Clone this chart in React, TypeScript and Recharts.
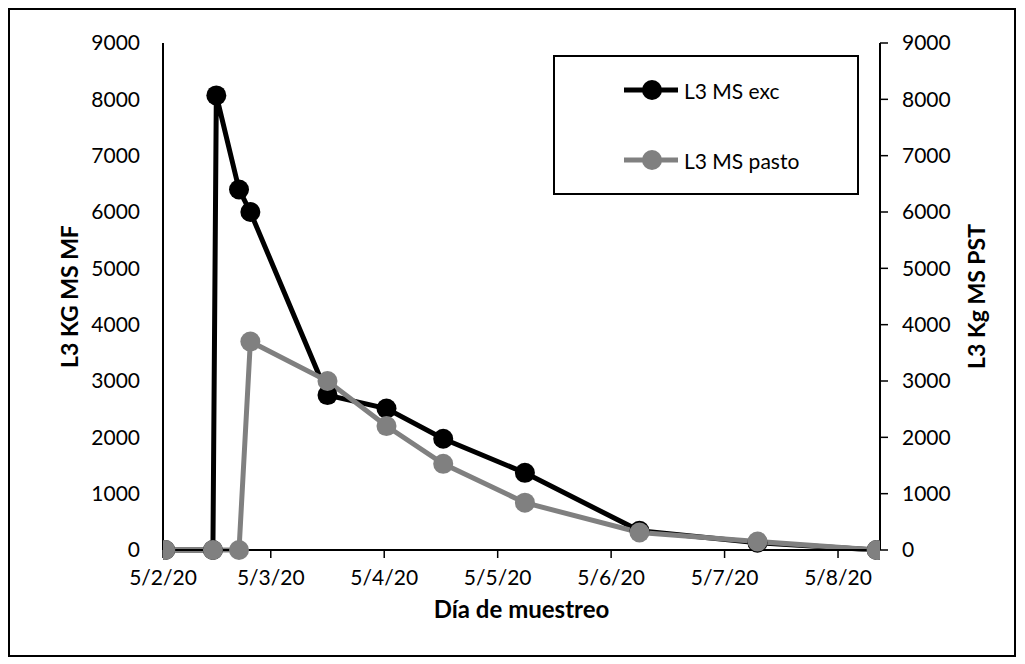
import React from "react";
import { LineChart, Line, XAxis, YAxis, Legend } from "recharts";

// x = days after 5/2/20
const excDays = [0.07, 0.49, 0.52, 0.72, 0.82, 1.5, 2.02, 2.52, 3.24, 4.25, 5.29, 6.34];
const excKg = [0, 0, 8070, 6400, 6000, 2750, 2510, 1975, 1370, 340, 130, 0];

const pastoDays = [0.07, 0.49, 0.72, 0.82, 1.5, 2.02, 2.52, 3.24, 4.25, 5.29, 6.34];
const pastoKg = [0, 0, 0, 3700, 3000, 2200, 1530, 840, 310, 150, 0];

const dayTicks = [0.05, 1, 2, 3, 4, 5, 6];
const kgTicks = [0, 1000, 2000, 3000, 4000, 5000, 6000, 7000, 8000, 9000];

const excData = excDays.map((x, i) => ({ x, v: excKg[i] }));
const pastoData = pastoDays.map((x, i) => ({ x, v: pastoKg[i] }));

const FONT = "Lato, 'Open Sans', sans-serif";
const tickStyle = { fill: "#000", fontSize: 21, fontFamily: FONT };

const fmtDay = (d: number) => `5/${2 + Math.floor(d)}/20`;

function LegendBox() {
  const rows = [
    { name: "L3 MS exc", color: "#000" },
    { name: "L3 MS pasto", color: "#808080" },
  ];
  return (
    <div
      style={{
        width: 306,
        height: 140,
        border: "2px solid #000",
        boxSizing: "border-box",
        background: "#fff",
        position: "relative",
        fontFamily: FONT,
      }}
    >
      {rows.map((r, i) => (
        <div
          key={r.name}
          style={{
            position: "absolute",
            left: 67,
            top: 33 + i * 70 - 13,
            height: 26,
            display: "flex",
            alignItems: "center",
          }}
        >
          <svg width={58} height={26}>
            <line x1={2} y1={13} x2={56} y2={13} stroke={r.color} strokeWidth={5} />
            <circle cx={30} cy={13} r={10} fill={r.color} />
          </svg>
          <span style={{ fontSize: 21, marginLeft: 4, color: "#000" }}>{r.name}</span>
        </div>
      ))}
    </div>
  );
}

export default function App() {
  return (
    <div style={{ width: 1004, height: 645, border: "2px solid #000", background: "#fff" }}>
      <LineChart width={1002} height={642} margin={{ top: 33, right: 0, left: 0, bottom: 0 }}>
        <XAxis
          xAxisId="b"
          type="number"
          dataKey="x"
          domain={[0.05, 6.37]}
          ticks={dayTicks}
          interval={0}
          allowDataOverflow
          tickFormatter={fmtDay}
          tick={tickStyle}
          tickSize={8}
          tickMargin={12}
          height={102}
          axisLine={{ stroke: "#000", strokeWidth: 2 }}
          tickLine={{ stroke: "#000", strokeWidth: 1.5 }}
          label={{
            value: "Día de muestreo",
            position: "center",
            dy: 8,
            style: { fill: "#000", fontSize: 24, fontWeight: 700, fontFamily: FONT },
          }}
        />
        <XAxis
          xAxisId="t"
          orientation="top"
          type="number"
          dataKey="x"
          domain={[0.05, 6.37]}
          height={0}
          tick={false}
          tickLine={false}
          axisLine={{ stroke: "#000", strokeWidth: 2 }}
        />
        <YAxis
          yAxisId="l"
          domain={[0, 9000]}
          ticks={kgTicks}
          interval={0}
          width={153}
          tick={tickStyle}
          tickLine={false}
          tickSize={0}
          tickMargin={23}
          axisLine={{ stroke: "#000", strokeWidth: 2 }}
          label={{
            value: "L3 KG MS MF",
            angle: -90,
            position: "center",
            dx: -17,
            style: { fill: "#000", fontSize: 23, fontWeight: 700, fontFamily: FONT },
          }}
        />
        <YAxis
          yAxisId="r"
          orientation="right"
          domain={[0, 9000]}
          ticks={kgTicks}
          interval={0}
          width={132}
          tick={tickStyle}
          tickSize={8}
          tickMargin={14}
          tickLine={{ stroke: "#000", strokeWidth: 1.5 }}
          axisLine={{ stroke: "#000", strokeWidth: 2 }}
          label={{
            value: "L3 Kg MS PST",
            angle: -90,
            position: "center",
            dx: 31,
            style: { fill: "#000", fontSize: 23, fontWeight: 700, fontFamily: FONT },
          }}
        />
        <Legend
          layout="vertical"
          align="center"
          verticalAlign="middle"
          wrapperStyle={{ left: 543, top: 45, width: 306, height: 140 }}
          content={() => <LegendBox />}
        />
        <Line
          xAxisId="b"
          yAxisId="l"
          data={excData}
          dataKey="v"
          name="L3 MS exc"
          type="linear"
          stroke="#000"
          strokeWidth={5}
          dot={{ r: 10, fill: "#000", stroke: "none" }}
          activeDot={false}
          isAnimationActive={false}
        />
        <Line
          xAxisId="b"
          yAxisId="r"
          data={pastoData}
          dataKey="v"
          name="L3 MS pasto"
          type="linear"
          stroke="#808080"
          strokeWidth={5}
          dot={{ r: 10, fill: "#808080", stroke: "none" }}
          activeDot={false}
          isAnimationActive={false}
        />
      </LineChart>
    </div>
  );
}
